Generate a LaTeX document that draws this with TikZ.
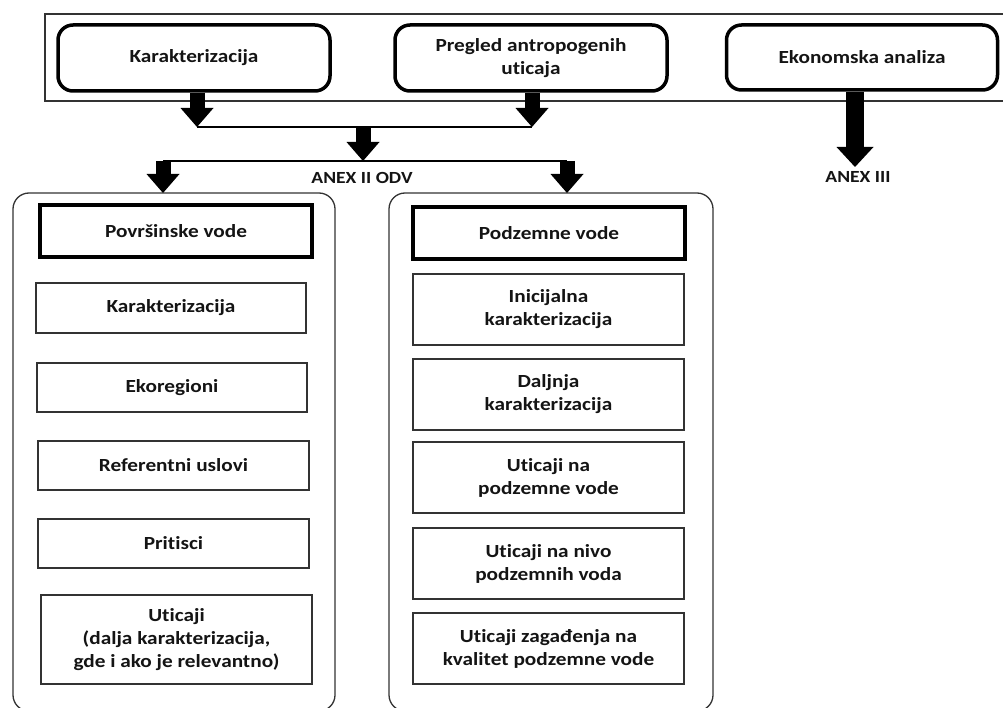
\documentclass[tikz,border=0pt]{standalone}
\usepackage{fontspec}
\setmainfont{Carlito}[FakeStretch=1.15, Ligatures={NoCommon}]
\usetikzlibrary{arrows.meta,calc}
\definecolor{ink}{HTML}{141414}
\definecolor{edge}{HTML}{333333}
\begin{document}
\begin{tikzpicture}[x=1pt,y=-1pt,
  txt/.style={font=\fontsize{18.5}{23}\selectfont\bfseries, text=ink, align=center, inner sep=0pt},
  topbox/.style={txt, draw=black, line width=3.5pt, rounded corners=15pt},
  headbox/.style={txt, draw=black, line width=3.5pt},
  itembox/.style={txt, draw=edge, line width=1.3pt, fill=white},
  groupbox/.style={draw=edge, line width=1.3pt, rounded corners=16pt},
  thinline/.style={draw=black, line width=1.5pt},
  bigarrow/.style={draw=black, line width=15pt, -{Triangle[width=33pt 0, length=19pt 0, line width=0pt]}},
  hugearrow/.style={draw=black, line width=18pt, -{Triangle[width=37pt 0, length=20pt 0, line width=0pt]}},
  lbl/.style={font=\fontsize{17}{20}\selectfont\bfseries, text=ink, inner sep=0pt}
]
\useasboundingbox (0,0) rectangle (1003,708);
\fill[white] (0,0) rectangle (1003,708);

% outer frame of the top row
\draw[draw=edge, line width=1.5pt] (45,14) rectangle (1012,101);

% top boxes
\node[topbox, minimum width=272pt, minimum height=66pt] (K1) at (194,58) {Karakterizacija};
\node[topbox, minimum width=272pt, minimum height=66pt] (P) at (531,58) {Pregled antropogenih\\uticaja};
\node[topbox, minimum width=271pt, minimum height=65pt] (E) at (862,57.5) {Ekonomska analiza};

% junction coordinates
\coordinate (j1) at (197,127);
\coordinate (j2) at (532,127);
\coordinate (m1) at (363,127);
\coordinate (m2) at (363,161);
\coordinate (h1) at (163,161);
\coordinate (h2) at (567,161);
\coordinate (e1) at (855,167);

% groups
\draw[groupbox] (13,193) rectangle (335,711);
\draw[groupbox] (389,193) rectangle (713,711);
\coordinate (G1top) at (163,193);
\coordinate (G2top) at (567,193);

% connectors
\draw[thinline] (j1) -- (j2);
\draw[thinline] (h1) -- (h2);
\draw[bigarrow] (K1.south -| j1) -- (j1);
\draw[bigarrow] (P.south -| j2) -- (j2);
\draw[bigarrow] (m1) -- (m2);
\draw[bigarrow] (h1) -- (G1top);
\draw[bigarrow] (h2) -- (G2top);
\draw[hugearrow] (E.south -| e1) -- (e1);

\node[lbl] (A2) at (362,178) {ANEX II ODV};
\node[lbl] (A3) at (858,177) {ANEX III};

% left column
\node[headbox, minimum width=272pt, minimum height=52pt] (LH) at (176,231) {Površinske vode};
\node[itembox, minimum width=270pt, minimum height=50pt] (L1) at (171,308) {Karakterizacija};
\node[itembox, minimum width=270pt, minimum height=49pt] (L2) at (172,387.5) {Ekoregioni};
\node[itembox, minimum width=271pt, minimum height=49pt] (L3) at (173.5,465.5) {Referentni uslovi};
\node[itembox, minimum width=271pt, minimum height=49pt] (L4) at (173.5,543.5) {Pritisci};
\node[itembox, minimum width=271pt, minimum height=89pt] (L5) at (176.5,639.5) {Uticaji\\(dalja karakterizacija,\\gde i ako je relevantno)};

% right column
\node[headbox, minimum width=272pt, minimum height=52pt] (RH) at (549,233) {Podzemne vode};
\node[itembox, minimum width=271pt, minimum height=71pt] (R1) at (548.5,309.5) {Inicijalna\\karakterizacija};
\node[itembox, minimum width=271pt, minimum height=71pt] (R2) at (548.5,394.5) {Daljnja\\karakterizacija};
\node[itembox, minimum width=271pt, minimum height=71pt] (R3) at (548.5,477.5) {Uticaji na\\podzemne vode};
\node[itembox, minimum width=271pt, minimum height=71pt] (R4) at (548.5,563.5) {Uticaji na nivo\\podzemnih voda};
\node[itembox, minimum width=271pt, minimum height=71pt] (R5) at (548.5,648.5) {Uticaji zagađenja na\\kvalitet podzemne vode};
\end{tikzpicture}
\end{document}
